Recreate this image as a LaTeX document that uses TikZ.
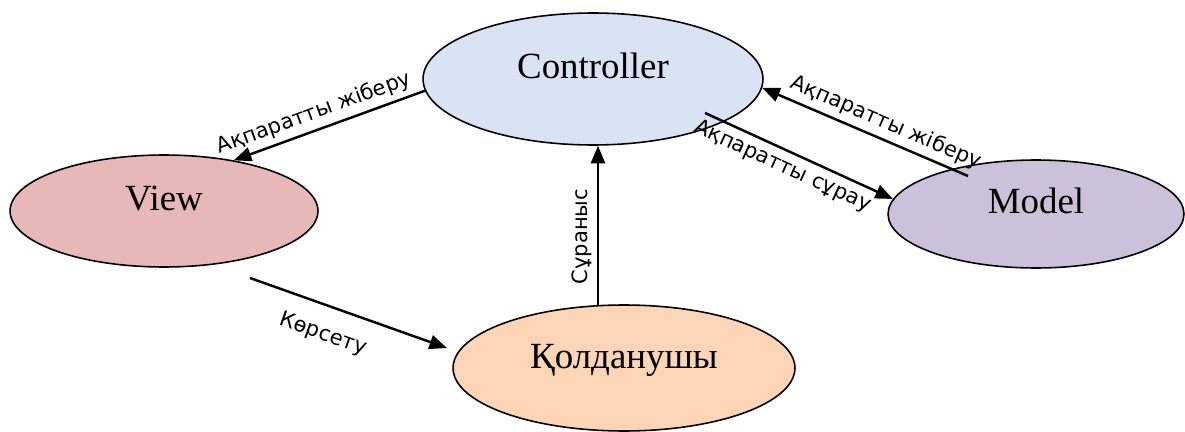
\documentclass[tikz,border=0pt]{standalone}
\usepackage{fontspec}
\setmainfont{Liberation Serif}
\newfontfamily\lblfont{DejaVu Sans}
\usepackage{tikz}
\usetikzlibrary{arrows.meta,positioning,calc,shapes.geometric}
\definecolor{cCtrl}{HTML}{DAE3F3}
\definecolor{cView}{HTML}{E6B9B8}
\definecolor{cModel}{HTML}{CCC1DA}
\definecolor{cUser}{HTML}{FBD5B5}

\begin{document}
\begin{tikzpicture}[x=0.02cm,y=-0.02cm,
  blob/.style={ellipse,draw=black,line width=.9pt,inner sep=0,
    text height=15pt,text depth=15pt,font=\fontsize{21}{25}\selectfont},
  arr/.style={line width=1.4pt,-{Triangle[length=10pt,width=8pt]}},
  lbl/.style={font=\lblfont\fontsize{12}{14}\selectfont,sloped,inner sep=3pt}]
  \useasboundingbox (0,0) rectangle (1185,432);
  \node[blob,fill=cCtrl,minimum width=6.8cm,minimum height=2.64cm] (ctrl) at (593,79) {Controller};
  \node[blob,fill=cView,minimum width=6.16cm,minimum height=2.24cm] (view) at (164,211) {View};
  \node[blob,fill=cModel,minimum width=5.92cm,minimum height=2.16cm] (model) at (1036,214) {Model};
  \node[blob,fill=cUser,minimum width=6.84cm,minimum height=2.52cm] (user) at (624,368) {Қолданушы};
  % free ends of the connectors
  \coordinate (showA) at (250,278);
  \coordinate (showB) at (447,348);
  \coordinate (askA) at (598,305);
  \coordinate (getA) at (705,113);
  \coordinate (sendA) at (968,176);
  \draw[arr] (ctrl.184) -- (view.36) node[lbl,pos=.55,above] {Ақпаратты жіберу};
  \draw[arr] (showA) -- (showB) node[lbl,pos=.42,below=7pt] {Көрсету};
  \draw[arr] (askA) -- (askA |- ctrl.south) node[lbl,pos=.43,above] {Сұраныс};
  \draw[arr] (getA) -- (model.174) node[lbl,pos=.45,below] {Ақпаратты сұрау};
  \draw[arr] (sendA) -- (ctrl.357) node[lbl,pos=.43,above] {Ақпаратты жіберу};
\end{tikzpicture}
\end{document}
